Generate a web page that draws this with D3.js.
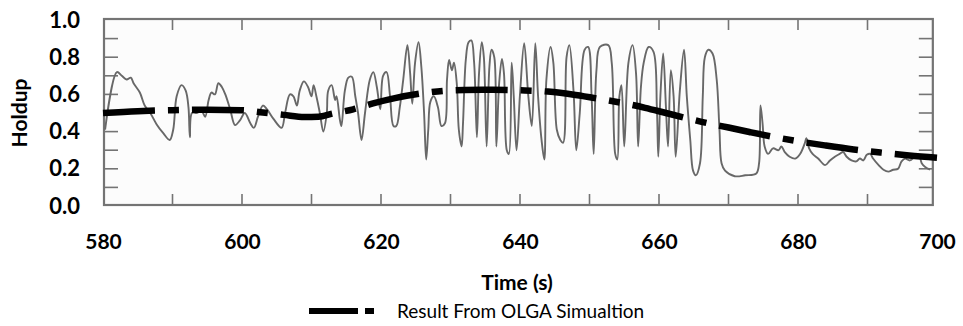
<!DOCTYPE html>
<html><head><meta charset="utf-8">
<script src="https://cdn.jsdelivr.net/npm/d3@7"></script>
<style>
html,body{margin:0;padding:0;background:#fff;}
svg{display:block;}
.tk text{font-family:Lato,"Open Sans",sans-serif;font-weight:bold;font-size:21px;fill:#000;}
.yt text{font-size:22px;}
</style></head>
<body><svg id="c" width="963" height="326"></svg>
<script>
// Simulation (OLGA) result
const simTime = [580,585,590,595,600,603,606,609,611,613,616,619,622,626,629,632,636,640,644,648,652,655,658,661,664,667,670,673,676,680,684,688,692,696,700];
const simHoldup = [0.500,0.510,0.515,0.518,0.515,0.503,0.490,0.478,0.480,0.497,0.520,0.553,0.580,0.606,0.619,0.624,0.625,0.622,0.615,0.597,0.572,0.552,0.528,0.500,0.472,0.445,0.422,0.398,0.375,0.348,0.325,0.304,0.287,0.272,0.260];

const expTime = [580.3,582.0,582.7,583.4,584.0,584.4,585.3,586.0,586.8,587.7,588.7,589.6,590.1,590.6,591.3,591.9,592.3,592.5,592.8,593.5,594.2,594.7,595.2,595.6,596.1,596.6,597.1,597.6,598.3,599.0,599.7,600.4,601.2,601.7,602.3,603.0,603.6,604.5,605.7,606.2,606.9,607.4,607.9,608.3,608.9,609.5,610.0,610.3,610.7,611.2,611.7,612.2,612.4,612.9,613.4,613.6,614.1,614.3,614.8,615.3,615.8,616.3,616.7,617.2,617.7,618.4,618.9,619.4,619.9,620.3,620.8,621.3,621.8,622.2,622.7,623.2,623.8,624.2,624.5,624.9,625.4,625.8,626.2,626.5,626.8,627.1,627.6,628.2,628.7,629.2,629.5,629.8,630.2,630.5,630.9,631.2,631.6,631.8,632.2,632.6,633.0,633.4,633.8,634.1,634.5,634.8,635.2,635.6,635.9,636.3,636.6,637.0,637.4,637.7,638.1,638.4,638.8,639.1,639.5,640.0,640.6,641.2,641.7,642.2,642.6,643.1,643.5,643.8,644.4,644.8,645.3,645.8,646.2,646.7,647.1,647.7,648.1,648.6,649.3,649.8,650.3,650.6,651.0,651.5,652.7,653.2,653.7,654.0,654.3,654.6,655.0,655.6,656.2,656.7,657.0,657.4,657.8,658.5,659.2,659.7,659.9,660.2,660.6,661.0,661.3,661.7,662.1,662.4,663.0,663.6,664.0,664.5,664.9,665.3,665.9,666.3,666.6,667.1,667.7,668.3,668.7,669.0,669.5,670.9,672.4,674.0,674.4,674.6,674.9,675.2,675.7,676.4,677.2,677.6,678.1,678.8,679.6,680.3,681.0,681.2,681.6,682.1,682.9,683.9,684.6,685.3,686.0,686.5,687.0,687.7,688.4,688.9,689.4,689.9,690.4,690.8,691.6,692.3,693.0,693.7,694.4,694.9,695.4,696.1,696.8,697.4,697.8,698.3,699.0];
const expHoldup = [0.41,0.72,0.70,0.68,0.69,0.66,0.61,0.54,0.50,0.44,0.39,0.355,0.41,0.59,0.65,0.62,0.53,0.37,0.50,0.50,0.51,0.48,0.57,0.61,0.60,0.66,0.64,0.60,0.52,0.435,0.46,0.50,0.445,0.42,0.48,0.54,0.52,0.47,0.42,0.50,0.60,0.59,0.54,0.62,0.67,0.64,0.59,0.65,0.59,0.50,0.40,0.50,0.62,0.65,0.57,0.59,0.46,0.43,0.62,0.69,0.695,0.59,0.50,0.355,0.50,0.68,0.72,0.64,0.52,0.70,0.72,0.59,0.43,0.43,0.53,0.68,0.865,0.71,0.55,0.77,0.88,0.75,0.50,0.25,0.41,0.56,0.59,0.53,0.43,0.445,0.68,0.785,0.73,0.77,0.66,0.41,0.32,0.445,0.785,0.88,0.89,0.77,0.37,0.71,0.88,0.80,0.32,0.75,0.84,0.80,0.32,0.66,0.79,0.71,0.30,0.28,0.77,0.59,0.30,0.60,0.875,0.59,0.43,0.875,0.59,0.355,0.25,0.68,0.855,0.77,0.41,0.355,0.34,0.80,0.865,0.62,0.30,0.50,0.84,0.855,0.59,0.28,0.73,0.855,0.865,0.77,0.28,0.25,0.59,0.65,0.32,0.77,0.865,0.71,0.32,0.64,0.77,0.855,0.83,0.52,0.265,0.59,0.82,0.53,0.32,0.73,0.59,0.265,0.62,0.84,0.59,0.355,0.19,0.165,0.23,0.59,0.80,0.84,0.82,0.68,0.41,0.23,0.19,0.16,0.165,0.175,0.23,0.54,0.445,0.32,0.28,0.31,0.30,0.32,0.29,0.265,0.255,0.28,0.34,0.365,0.31,0.28,0.255,0.22,0.245,0.265,0.28,0.29,0.265,0.245,0.24,0.255,0.245,0.275,0.28,0.255,0.22,0.195,0.185,0.195,0.20,0.24,0.255,0.245,0.265,0.275,0.23,0.21,0.195];

const xTicks = [580,600,620,640,660,680,700];
const yTicks = [0.0,0.2,0.4,0.6,0.8,1.0];
const frameTicksX = [590,600,610,620,630,640,650,660,670,680,690];
const frameTicksY = [0.1,0.2,0.3,0.4,0.5,0.6,0.7,0.8,0.9];

const svg = d3.select("#c");
const x = d3.scaleLinear().domain([580,700]).range([103,937]);
const y = d3.scaleLinear().domain([0,1]).range([206,20]);

// scanned-plot frame
const fx0 = x(580)+1, fx1 = x(699.4), fy0 = y(1.0)-1, fy1 = y(0)-1;
const frame = svg.append("g").attr("stroke","#747474").attr("fill","none");
frame.append("rect").attr("x",fx0).attr("y",fy0).attr("width",fx1-fx0).attr("height",fy1-fy0)
  .attr("fill","#fcfcfc").attr("stroke-width",2.2);
frameTicksX.forEach(t=>{
  frame.append("line").attr("x1",x(t)).attr("x2",x(t)).attr("y1",fy0).attr("y2",fy0+11).attr("stroke-width",1.6);
  frame.append("line").attr("x1",x(t)).attr("x2",x(t)).attr("y1",fy1).attr("y2",fy1-11).attr("stroke-width",1.6);
});
frameTicksY.forEach(v=>{
  frame.append("line").attr("x1",fx0).attr("x2",fx0+14).attr("y1",y(v)).attr("y2",y(v)).attr("stroke-width",1.6);
  frame.append("line").attr("x1",fx1).attr("x2",fx1-14).attr("y1",y(v)).attr("y2",y(v)).attr("stroke-width",1.6);
});

// experimental trace
const expData = expTime.map((t,i)=>[t,expHoldup[i]]);
svg.append("path").datum(expData)
  .attr("d", d3.line().x(d=>x(d[0])).y(d=>y(d[1])).curve(d3.curveCatmullRom.alpha(0.5)))
  .attr("fill","none").attr("stroke","#686868").attr("stroke-width",1.9).attr("stroke-linejoin","round");

// simulation line
const simData = simTime.map((t,i)=>[t,simHoldup[i]]);
svg.append("path").datum(simData)
  .attr("d", d3.line().x(d=>x(d[0])).y(d=>y(d[1])).curve(d3.curveMonotoneX))
  .attr("fill","none").attr("stroke","#000").attr("stroke-width",6.5)
  .attr("stroke-dasharray","52,13,11,13");

// axes
const ya = svg.append("g").attr("class","tk yt").attr("transform","translate(80,0)")
  .call(d3.axisLeft(y).tickValues(yTicks).tickFormat(d3.format(".1f")).tickSize(0).tickPadding(0));
ya.select(".domain").remove();
const xa = svg.append("g").attr("class","tk").attr("transform","translate(0,234)")
  .call(d3.axisBottom(x).tickValues(xTicks).tickFormat(d3.format("d")).tickSize(0).tickPadding(0));
xa.select(".domain").remove();

svg.append("text").attr("x",517).attr("y",290).attr("text-anchor","middle")
  .attr("font-family","Lato,'Open Sans',sans-serif").attr("font-weight","bold").attr("font-size",21)
  .text("Time (s)");
svg.append("text").attr("transform","translate(27,113) rotate(-90)").attr("text-anchor","middle")
  .attr("font-family","Lato,'Open Sans',sans-serif").attr("font-weight","bold").attr("font-size",21)
  .text("Holdup");

// legend
const lg = svg.append("g");
lg.append("line").attr("x1",309).attr("x2",374).attr("y1",311).attr("y2",311)
  .attr("stroke","#000").attr("stroke-width",6).attr("stroke-dasharray","49,7,9");
lg.append("text").attr("x",397).attr("y",318)
  .attr("font-family","Lato,'Open Sans',sans-serif").attr("font-size",19)
  .text("Result From OLGA Simualtion");
</script></body></html>
